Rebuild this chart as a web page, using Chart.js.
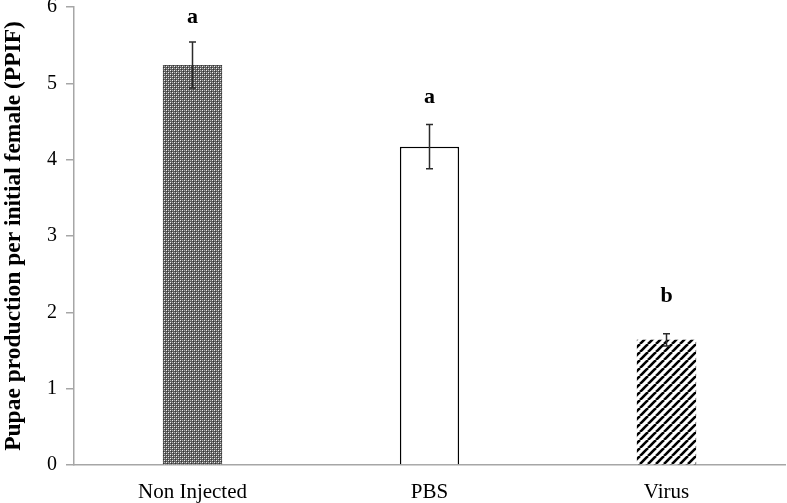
<!DOCTYPE html>
<html>
<head>
<meta charset="utf-8">
<script src="https://cdn.jsdelivr.net/npm/chart.js@4.4.0/dist/chart.umd.min.js"></script>
<style>
  html, body { margin: 0; padding: 0; background: #ffffff; }
  #wrap { width: 787px; height: 503px; position: relative; }
</style>
</head>
<body>
<div id="wrap"><canvas id="c" width="787" height="503"></canvas></div>
<script>
// ---- data ----
const categories = ['Non Injected', 'PBS', 'Virus'];
const means = [5.24, 4.17, 1.64];
const errors = [0.30, 0.29, 0.08];
const letters = ['a', 'a', 'b'];
const letterLevels = [5.87, 4.82, 2.21];
const yTickValues = [0, 1, 2, 3, 4, 5, 6];
const yTitle = 'Pupae production per initial female (PPIF)';

// ---- patterns ----
function checkerPattern() {
  const c = document.createElement('canvas');
  c.width = 4; c.height = 4;
  const g = c.getContext('2d');
  g.fillStyle = '#5e5e5e';
  g.fillRect(0, 0, 4, 4);
  g.fillStyle = '#f0f0f0';
  g.fillRect(0, 0, 1, 1);
  g.fillRect(2, 2, 1, 1);
  g.fillStyle = '#b0b0b0';
  g.fillRect(2, 0, 1, 1);
  g.fillRect(0, 2, 1, 1);
  g.fillStyle = '#353535';
  g.fillRect(1, 1, 1, 1);
  g.fillRect(3, 3, 1, 1);
  return g.createPattern(c, 'repeat');
}
function stripePattern() {
  const c = document.createElement('canvas');
  c.width = 8; c.height = 8;
  const g = c.getContext('2d');
  g.fillStyle = '#ffffff';
  g.fillRect(0, 0, 8, 8);
  g.strokeStyle = '#000000';
  g.lineWidth = 2.6;
  for (const o of [-8, 0, 8]) {
    g.beginPath();
    g.moveTo(o, 8);
    g.lineTo(o + 8, 0);
    g.stroke();
  }
  return g.createPattern(c, 'repeat');
}

const ctx = document.getElementById('c').getContext('2d');
const fills = [checkerPattern(), '#ffffff', stripePattern()];
const serif = '"Liberation Serif", "Times New Roman", serif';

const errorPlugin = {
  id: 'errorBarsLetters',
  afterDatasetsDraw(chart) {
    const g = chart.ctx;
    const meta = chart.getDatasetMeta(0);
    const y = chart.scales.y;
    g.save();
    meta.data.forEach((bar, i) => {
      const x = bar.x;
      const top = y.getPixelForValue(means[i] + errors[i]);
      const bot = y.getPixelForValue(means[i] - errors[i]);
      g.strokeStyle = '#2b2b2b';
      g.lineWidth = 1.5;
      g.beginPath();
      g.moveTo(x, top); g.lineTo(x, bot);
      g.moveTo(x - 3.5, top); g.lineTo(x + 3.5, top);
      g.moveTo(x - 3.5, bot); g.lineTo(x + 3.5, bot);
      g.stroke();
      g.fillStyle = '#000000';
      g.font = 'bold 22px ' + serif;
      g.textAlign = 'center';
      g.textBaseline = 'middle';
      g.fillText(letters[i], x, y.getPixelForValue(letterLevels[i]));
    });
    g.restore();
  }
};

new Chart(ctx, {
  type: 'bar',
  data: {
    labels: categories,
    datasets: [{
      data: means,
      backgroundColor: fills,
      borderColor: ['rgba(0,0,0,0)', '#000000', 'rgba(0,0,0,0)'],
      borderWidth: [0, 1.5, 0],
      borderSkipped: 'bottom',
      barPercentage: 0.25,
      categoryPercentage: 1.0
    }]
  },
  options: {
    responsive: false,
    animation: false,
    devicePixelRatio: 1,
    layout: { padding: { top: 7, right: 2, left: 0, bottom: 0 } },
    plugins: { legend: { display: false }, tooltip: { enabled: false } },
    scales: {
      x: {
        grid: { display: false },
        border: { display: true, color: '#a6a6a6', width: 1.5 },
        ticks: {
          color: '#000000',
          font: { family: serif, size: 21 },
          padding: 7
        },
        afterFit(s) { s.height = 38; s.paddingLeft = 0; s.paddingRight = 0; }
      },
      y: {
        min: 0,
        max: 6,
        afterBuildTicks(s) { s.ticks = yTickValues.map(v => ({ value: v })); },
        grid: { display: true, drawOnChartArea: false, drawTicks: true, tickLength: 8, color: '#a6a6a6', lineWidth: 1.5 },
        border: { display: true, color: '#a6a6a6', width: 1.5 },
        ticks: {
          color: '#000000',
          font: { family: serif, size: 20 },
          padding: 9
        },
        title: {
          display: true,
          text: yTitle,
          color: '#000000',
          font: { family: serif, size: 23.5, weight: 'bold' },
          padding: { top: 0, bottom: 4 }
        },
        afterFit(s) { s.width = 74; s.paddingTop = 0; s.paddingBottom = 0; }
      }
    }
  },
  plugins: [errorPlugin]
});
</script>
</body>
</html>
